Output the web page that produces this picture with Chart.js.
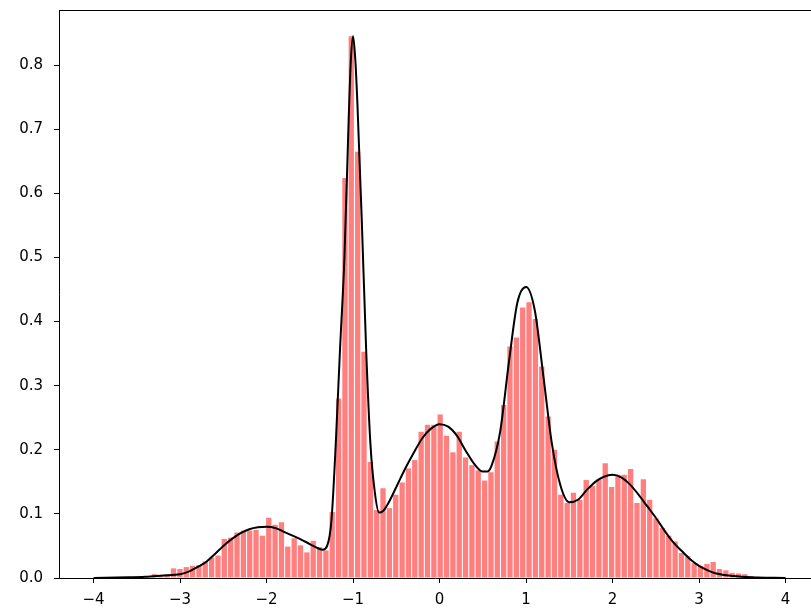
<!DOCTYPE html>
<html>
<head>
<meta charset="utf-8">
<script src="https://cdn.jsdelivr.net/npm/chart.js@4/dist/chart.umd.min.js"></script>
<style>
  html, body { margin: 0; padding: 0; background: #fff; overflow: hidden; }
</style>
</head>
<body>
<canvas id="histChart" width="811" height="613"></canvas>
<script>
// histogram bin centres and bar heights (density)
var binCenters = [
  -3.296, -3.223, -3.149, -3.076, -3.002, -2.929, -2.856, -2.782, -2.709, -2.635,
  -2.562, -2.489, -2.415, -2.342, -2.268, -2.195, -2.122, -2.048, -1.975, -1.902,
  -1.828, -1.755, -1.681, -1.608, -1.534, -1.461, -1.388, -1.314, -1.241, -1.167,
  -1.094, -1.021, -0.947, -0.874, -0.800, -0.727, -0.654, -0.580, -0.507, -0.433,
  -0.360, -0.287, -0.213, -0.140, -0.066, 0.007, 0.080, 0.154, 0.227, 0.300,
  0.374, 0.447, 0.521, 0.594, 0.667, 0.741, 0.814, 0.888, 0.961, 1.034,
  1.108, 1.181, 1.255, 1.328, 1.401, 1.475, 1.548, 1.622, 1.695, 1.768,
  1.842, 1.915, 1.989, 2.062, 2.135, 2.209, 2.282, 2.356, 2.429, 2.502,
  2.576, 2.649, 2.723, 2.796, 2.869, 2.943, 3.016, 3.090, 3.163, 3.236,
  3.310, 3.383, 3.457, 3.530, 3.604, 3.677
];
var binHeights = [
  0.006, 0.004, 0.006, 0.015, 0.014, 0.017, 0.019, 0.020, 0.026, 0.032,
  0.035, 0.061, 0.063, 0.071, 0.074, 0.074, 0.075, 0.066, 0.094, 0.083,
  0.087, 0.049, 0.062, 0.051, 0.040, 0.058, 0.048, 0.043, 0.103, 0.280,
  0.624, 0.845, 0.665, 0.353, 0.181, 0.106, 0.140, 0.109, 0.130, 0.149,
  0.171, 0.184, 0.228, 0.239, 0.239, 0.255, 0.222, 0.196, 0.228, 0.188,
  0.176, 0.168, 0.152, 0.165, 0.213, 0.270, 0.361, 0.375, 0.422, 0.430,
  0.404, 0.330, 0.252, 0.200, 0.130, 0.117, 0.133, 0.122, 0.153, 0.144,
  0.154, 0.179, 0.142, 0.161, 0.161, 0.170, 0.117, 0.154, 0.122, 0.093,
  0.078, 0.066, 0.057, 0.039, 0.034, 0.023, 0.019, 0.022, 0.025, 0.014,
  0.012, 0.008, 0.007, 0.006, 0.003, 0.002
];

// smooth density curve drawn over the bars
var curveX = [
  -4.0, -3.6, -3.4, -3.2, -3.0, -2.9, -2.8, -2.7, -2.6, -2.5,
  -2.4, -2.3, -2.2, -2.1, -2.0, -1.9, -1.8, -1.7, -1.6, -1.5,
  -1.4, -1.35, -1.3, -1.25, -1.2, -1.15, -1.1, -1.05, -1.025, -1.0,
  -0.975, -0.95, -0.9, -0.85, -0.8, -0.75, -0.7, -0.65, -0.6, -0.5,
  -0.4, -0.3, -0.2, -0.1, 0.0, 0.1, 0.2, 0.3, 0.4, 0.5,
  0.55, 0.6, 0.7, 0.8, 0.9, 1.0, 1.1, 1.2, 1.3, 1.4,
  1.5, 1.6, 1.7, 1.8, 1.9, 2.0, 2.1, 2.2, 2.3, 2.4,
  2.5, 2.6, 2.7, 2.8, 2.9, 3.0, 3.1, 3.2, 3.4, 3.6, 4.0
];
var curveY = [
  0.000, 0.001, 0.002, 0.004, 0.006, 0.010, 0.017, 0.025, 0.037, 0.050,
  0.061, 0.070, 0.076, 0.079, 0.080, 0.078, 0.072, 0.066, 0.060, 0.053,
  0.046, 0.044, 0.050, 0.090, 0.210, 0.360, 0.500, 0.720, 0.810, 0.845,
  0.810, 0.740, 0.560, 0.360, 0.210, 0.135, 0.102, 0.105, 0.115, 0.142,
  0.170, 0.195, 0.218, 0.233, 0.240, 0.236, 0.222, 0.199, 0.178, 0.166,
  0.166, 0.175, 0.228, 0.335, 0.430, 0.454, 0.418, 0.315, 0.208, 0.143,
  0.118, 0.122, 0.137, 0.150, 0.158, 0.161, 0.157, 0.146, 0.130, 0.112,
  0.094, 0.074, 0.056, 0.042, 0.029, 0.019, 0.012, 0.007, 0.003, 0.001, 0.000
];

var xRange = [-4.4, 4.294];   // right side of the axes is cut by the picture edge
var yRange = [0, 0.886];

var barData = binCenters.map(function (x, i) { return { x: x, y: binHeights[i] }; });
var curveData = curveX.map(function (x, i) { return { x: x, y: curveY[i] }; });

// matplotlib style top spine (no right spine, it is outside the picture)
var topSpine = {
  id: 'topSpine',
  afterDraw: function (chart) {
    var a = chart.chartArea;
    var ctx = chart.ctx;
    ctx.save();
    ctx.strokeStyle = '#000';
    ctx.lineWidth = 1;
    ctx.beginPath();
    ctx.moveTo(a.left, a.top + 0.5);
    ctx.lineTo(a.right, a.top + 0.5);
    ctx.stroke();
    ctx.restore();
  }
};

Chart.defaults.font.family = "'DejaVu Sans', sans-serif";
Chart.defaults.font.size = 15;
Chart.defaults.color = '#000';

var histChart = new Chart(document.getElementById('histChart'), {
  type: 'bar',
  data: {
    datasets: [
      {
        type: 'line',
        data: curveData,
        borderColor: '#000',
        borderWidth: 2,
        pointRadius: 0,
        fill: false,
        cubicInterpolationMode: 'monotone',
        order: 1
      },
      {
        type: 'bar',
        data: barData,
        backgroundColor: 'rgba(255,0,0,0.5)',
        barPercentage: 0.84,
        categoryPercentage: 1,
        order: 2
      }
    ]
  },
  options: {
    responsive: false,
    animation: false,
    layout: { padding: { top: 10, left: 0, right: 0, bottom: 0 } },
    plugins: { legend: { display: false }, tooltip: { enabled: false } },
    scales: {
      x: {
        type: 'linear',
        offset: false,
        min: xRange[0],
        max: xRange[1],
        grid: { offset: false, drawOnChartArea: false, drawTicks: true, tickLength: 5, color: '#000' },
        border: { display: true, color: '#000', width: 1 },
        ticks: {
          stepSize: 1,
          includeBounds: false,
          padding: 8,
          maxRotation: 0,
          callback: function (v) { return v < 0 ? '\u2212' + Math.abs(v) : String(v); }
        },
        afterFit: function (axis) {
          axis.height = 35;
          axis.paddingLeft = 0;
          axis.paddingRight = 0;
        }
      },
      y: {
        min: yRange[0],
        max: yRange[1],
        grid: { drawOnChartArea: false, drawTicks: true, tickLength: 5, color: '#000' },
        border: { display: true, color: '#000', width: 1 },
        ticks: {
          stepSize: 0.1,
          includeBounds: false,
          padding: 11,
          callback: function (v) { return v.toFixed(1); }
        },
        afterFit: function (axis) {
          axis.width = 59;
          axis.paddingTop = 0;
          axis.paddingBottom = 0;
        }
      }
    }
  },
  plugins: [topSpine]
});
</script>
</body>
</html>
